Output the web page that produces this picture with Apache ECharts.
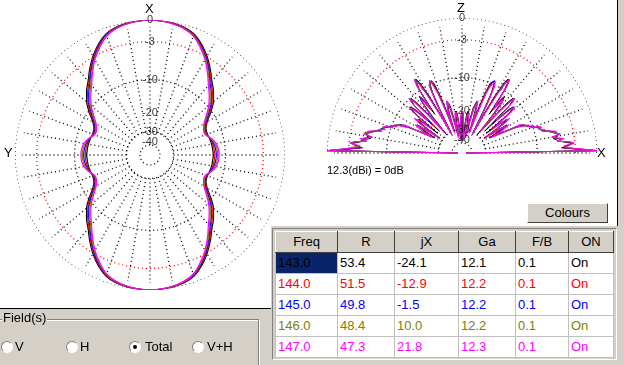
<!DOCTYPE html>
<html><head><meta charset="utf-8">
<script src="https://cdn.jsdelivr.net/npm/echarts@6/dist/echarts.min.js"></script>
<style>
html,body{margin:0;padding:0;width:624px;height:365px;overflow:hidden;background:#fff;font-family:"Liberation Sans",Arial,sans-serif;}
.abs{position:absolute;}
#grayL{left:0;top:308px;width:272px;height:57px;background:#d4d0c8;border-top:1px solid #000;}
#grayR{left:271px;top:226px;width:353px;height:139px;background:#d4d0c8;}
#grayS{left:617px;top:0;width:7px;height:226px;background:#d4d0c8;border-left:1px solid #000;}
#chart{left:0;top:0;width:624px;height:365px;}
#tbl{left:275px;top:231px;border-collapse:collapse;font-size:13px;table-layout:fixed;background:#fff;}
#tbl td,#tbl th{padding:0 0 0 2px;height:20px;line-height:20px;white-space:nowrap;overflow:hidden;}
#tbl th{font-weight:normal;background:#d4d0c8;text-align:center;border-top:1px solid #fff;border-left:1px solid #fff;border-right:1px solid #404040;border-bottom:1px solid #404040;padding:0;}
#tbl td{border:1px solid #c0c0c0;}
#tblbox{left:272px;top:228px;width:343px;height:130px;border-top:1px solid #808080;border-left:1px solid #808080;border-right:1px solid #fff;border-bottom:1px solid #fff;}
#btn{left:527px;top:203px;width:79px;height:18px;background:#d4d0c8;border-top:1px solid #fff;border-left:1px solid #fff;border-right:1px solid #404040;border-bottom:1px solid #404040;font-size:13px;text-align:center;line-height:18px;}
#grp{left:-2px;top:319px;width:259px;height:60px;border:1px solid #808080;box-shadow:1px 1px 0 #fff inset,1px 1px 0 #fff;}
#grpl{left:2px;top:311px;font-size:13px;background:#d4d0c8;padding:0 1px;line-height:14px;}
.rb{width:10px;height:10px;border-radius:50%;background:#fff;border-top:1px solid #808080;border-left:1px solid #808080;border-right:1px solid #fff;border-bottom:1px solid #fff;}
.rb.on::after{content:"";position:absolute;left:3px;top:3px;width:4px;height:4px;border-radius:50%;background:#000;}
.rl{font-size:13px;line-height:14px;}
</style>
</head><body>
<div id="grayL" class="abs"></div>
<div id="grayR" class="abs"></div>
<div id="grayS" class="abs"></div>
<div id="chart" class="abs"></div>
<div id="btn" class="abs">Colours</div>
<div id="tblbox" class="abs"></div>
<table id="tbl" class="abs"></table>
<div id="grp" class="abs"></div>
<div id="grpl" class="abs">Field(s)</div>
<div id="radios"></div>
<script>
// ---------- data ----------
const freqs = [143.0, 144.0, 145.0, 146.0, 147.0];
const colors = ['#000000', '#ff0000', '#0000ff', '#808000', '#ff00ff'];
const colR = [53.4, 51.5, 49.8, 48.4, 47.3];
const colJX = [-24.1, -12.9, -1.5, 10.0, 21.8];
const colGa = [12.1, 12.2, 12.2, 12.2, 12.3];
const colFB = [0.1, 0.1, 0.1, 0.1, 0.1];
const colOn = ['On', 'On', 'On', 'On', 'On'];
const headers = ['Freq', 'R', 'jX', 'Ga', 'F/B', 'ON'];
const colWidths = [62, 57, 64, 57, 53, 45];

const tickDb = [0, -3, -10, -20, -30, -40];
const tickText = ['0', '-3', '-10', '-20', '-30', '-40'];
const ringDb = [0, -3, -10, -30, -44.5];
const ringColor = ['#000', '#f00', '#000', '#000', '#000'];
const spokeDb = [-30, -0.9];
const refText = '12.3(dBi) = 0dB';
const fields = ['V', 'H', 'Total', 'V+H'];
const fieldSel = 2;

// azimuth pattern (dB), 0..90 deg every 5 deg (pattern symmetric in both axes)
const azStep = 5;
const az143 = [0, -0.05, -0.15, -0.35, -0.8, -1.7, -2.9, -4.3, -5.8, -7.0, -8.4, -10.3, -12.3, -13.4, -13.6, -13.4, -13.2, -13.1, -13.0];
const az144 = [0, -0.05, -0.17, -0.4, -0.88, -1.83, -3.05, -4.5, -6.05, -7.3, -8.75, -10.6, -12.55, -13.6, -13.75, -13.3, -12.9, -12.7, -12.6];
const az145 = [0, -0.06, -0.2, -0.45, -0.95, -1.95, -3.2, -4.7, -6.3, -7.6, -9.05, -10.95, -12.8, -13.8, -13.9, -13.2, -12.6, -12.3, -12.2];
const az146 = [0, -0.06, -0.22, -0.5, -1.02, -2.08, -3.35, -4.9, -6.55, -7.9, -9.4, -11.3, -13.05, -14.0, -14.05, -13.05, -12.3, -11.95, -11.85];
const az147 = [0, -0.07, -0.25, -0.55, -1.1, -2.2, -3.5, -5.1, -6.8, -8.2, -9.7, -11.6, -13.3, -14.2, -14.2, -12.9, -12.0, -11.6, -11.5];

// elevation pattern (dB), 0..90 deg every 1 deg (mirrored to the back side)
const el143 = [-60, 0, -3.0, -5.2, -4.0, -3.5, -4.5, -5.5, -5.4, -6.5, -6.0, -5.5, -5.3, -6.5, -7.2, -7.5, -8.5, -8.2, -8.6, -9.5,
  -9.5, -10.5, -10.5, -11.2, -11.5, -12.0, -16, -18, -20, -25, -22, -18, -16, -20, -28, -20, -16, -15, -15.5, -25,
  -14, -12, -11.5, -13, -25, -12, -10.5, -10.1, -12, -20, -30, -18, -13, -11, -12, -18, -10, -8, -7.5, -8.5,
  -12, -22, -30, -18, -12, -10, -9.3, -9.3, -10, -13, -20, -30, -22, -18, -16.5, -16.5, -18, -24, -35, -30,
  -25, -22, -20, -21, -25, -35, -40, -35, -28, -22, -20];
const el144 = [-60, 0, -2.8, -5.0, -4.2, -3.4, -4.3, -5.6, -5.2, -6.3, -6.2, -5.4, -5.5, -6.3, -7.0, -7.8, -8.3, -8.4, -8.5, -9.3,
  -9.8, -10.3, -10.7, -11.0, -11.8, -12.5, -15, -19, -21, -23, -20, -17, -16.5, -22, -26, -18, -15.5, -15, -16.5, -22,
  -13.5, -11.8, -11.8, -14, -22, -11.5, -10.2, -10.4, -13, -22, -26, -16, -12.5, -11.2, -13, -16, -9.5, -7.8, -7.7, -9.2,
  -14, -26, -26, -16, -11.5, -9.8, -9.2, -9.6, -10.8, -15, -24, -27, -20, -17, -16, -17, -20, -28, -32, -27,
  -23, -21, -20.5, -22, -28, -38, -38, -32, -25, -21, -20];
const el145 = [-60, 0, -2.6, -4.8, -4.4, -3.3, -4.1, -5.7, -5.0, -6.1, -6.4, -5.3, -5.7, -6.1, -6.9, -8.0, -8.1, -8.6, -8.4, -9.1,
  -10.0, -10.1, -10.9, -10.9, -12.0, -13.0, -14, -20, -22, -21, -19, -16.5, -17, -24, -24, -17, -15, -15.2, -18, -20,
  -13, -11.6, -12.2, -15, -20, -11.2, -10.0, -10.8, -14, -24, -23, -15, -12.2, -11.5, -14, -15, -9.2, -7.6, -7.9, -10,
  -16, -30, -23, -15, -11, -9.6, -9.1, -10, -11.5, -17, -27, -25, -19, -16.5, -15.8, -17.5, -22, -32, -30, -25,
  -22, -20.5, -21, -23, -31, -40, -36, -30, -24, -20.5, -20];
const el146 = [-60, 0, -2.4, -4.6, -4.6, -3.2, -3.9, -5.8, -4.8, -5.9, -6.6, -5.2, -5.9, -5.9, -6.8, -8.2, -7.9, -8.8, -8.3, -8.9,
  -10.2, -9.9, -11.1, -10.8, -12.2, -13.5, -13, -21, -23, -19, -18, -16, -18, -26, -22, -16, -14.6, -15.5, -19.5, -18,
  -12.6, -11.4, -12.6, -16.5, -18, -11, -9.9, -11.3, -15.5, -26, -20, -14.5, -12, -11.8, -15, -14, -9, -7.5, -8.2, -11,
  -18, -32, -21, -14.5, -10.6, -9.4, -9.1, -10.4, -12.3, -19, -30, -23, -18.5, -16, -15.7, -18, -24, -35, -28, -24,
  -21.5, -20.3, -21.5, -24, -34, -40, -34, -28, -23, -20.2, -19.8];
const el147 = [-60, 0, -2.2, -4.4, -4.8, -3.1, -3.7, -5.9, -4.6, -5.7, -6.8, -5.1, -6.1, -5.7, -6.7, -8.4, -7.7, -9.0, -8.2, -8.7,
  -10.4, -9.7, -11.3, -10.7, -12.4, -14, -12.5, -22, -24, -18, -17, -15.5, -19, -28, -20, -15.5, -14.2, -16, -21, -16.5,
  -12.2, -11.2, -13, -18, -16.5, -10.8, -9.8, -11.8, -17, -28, -18, -14, -11.8, -12.2, -16, -13, -8.8, -7.4, -8.5, -12,
  -20, -33, -19, -14, -10.2, -9.2, -9.2, -10.8, -13, -21, -32, -21, -18, -15.5, -15.6, -18.5, -26, -37, -27, -23,
  -21, -20, -22, -25, -37, -40, -32, -26, -22, -20, -19.5];

const azData = [az143, az144, az145, az146, az147];
const elData = [el143, el144, el145, el146, el147];

// ---------- scale: ARRL-style log radius, r = 0.89^(-dB/2) ----------
function rv(db) { return Math.pow(0.89, -db / 2); }

const chart = echarts.init(document.getElementById('chart'), null, {renderer: 'canvas'});
const series = [];
const dot = {type: [1, 3], width: 1.3};

function ring(pi, db, col, a0, a1) {
  const d = [];
  for (let a = a0; a <= a1; a += 2) d.push([rv(db), a]);
  series.push({type: 'line', coordinateSystem: 'polar', polarIndex: pi, data: d, symbol: 'none', silent: true,
    lineStyle: Object.assign({color: col}, dot), z: 1});
}
function spoke(pi, a) {
  series.push({type: 'line', coordinateSystem: 'polar', polarIndex: pi,
    data: [[rv(spokeDb[0]), a], [rv(spokeDb[1]), a]], symbol: 'none', silent: true,
    lineStyle: Object.assign({color: '#000'}, dot), z: 1});
}
for (let i = 0; i < ringDb.length; i++) { ring(0, ringDb[i], ringColor[i], 0, 360); ring(1, ringDb[i], ringColor[i], 0, 180); }
for (let a = 0; a < 360; a += 10) spoke(0, a);
for (let a = 0; a <= 180; a += 10) spoke(1, a);

// azimuth traces
azData.forEach((arr, k) => {
  const d = [];
  for (let a = 0; a <= 360; a += azStep) {
    let q = a % 180; if (q > 90) q = 180 - q;
    d.push([rv(arr[q / azStep]), a]);
  }
  series.push({type: 'line', coordinateSystem: 'polar', polarIndex: 0, data: d, symbol: 'none', smooth: 0.35,
    lineStyle: {color: colors[k], width: 1.2}, z: 3 + k});
});
// elevation traces
elData.forEach((arr, k) => {
  const d = [];
  for (let e = 0; e <= 180; e++) {
    const q = e <= 90 ? e : 180 - e;
    d.push([rv(arr[q]), e]);
  }
  series.push({type: 'line', coordinateSystem: 'polar', polarIndex: 1, data: d, symbol: 'none',
    lineStyle: {color: colors[k], width: 1}, z: 3 + k});
});
// tick labels
[0, 1].forEach(pi => {
  series.push({type: 'scatter', coordinateSystem: 'polar', polarIndex: pi, symbolSize: 0, z: 20, silent: true,
    data: tickDb.map((db, i) => ({value: [rv(db), pi === 0 ? 0 : 90], name: tickText[i]})),
    label: {show: true, position: 'inside', formatter: p => p.name, color: '#000', fontSize: 11,
      fontFamily: 'Liberation Sans'}});
});

chart.setOption({
  animation: false,
  polar: [{center: [150, 155], radius: 135}, {center: [462, 153], radius: 135}],
  angleAxis: [
    {polarIndex: 0, type: 'value', min: 0, max: 360, startAngle: 90, clockwise: false, show: false},
    {polarIndex: 1, type: 'value', min: 0, max: 360, startAngle: 0, clockwise: false, show: false}],
  radiusAxis: [
    {polarIndex: 0, type: 'value', min: 0, max: 1, show: false},
    {polarIndex: 1, type: 'value', min: 0, max: 1, show: false}],
  graphic: [
    {type: 'text', left: 145, top: 3, style: {text: 'X', font: '13px Liberation Sans', fill: '#000'}},
    {type: 'text', left: 4, top: 147, style: {text: 'Y', font: '13px Liberation Sans', fill: '#000'}},
    {type: 'text', left: 457, top: 2, style: {text: 'Z', font: '13px Liberation Sans', fill: '#000'}},
    {type: 'text', left: 597, top: 147, style: {text: 'X', font: '13px Liberation Sans', fill: '#000'}},
    {type: 'text', left: 327, top: 165, style: {text: refText, font: '11px Liberation Sans', fill: '#000'}}
  ],
  series: series
});

// ---------- table ----------
const tbl = document.getElementById('tbl');
let html = '<colgroup>' + colWidths.map(w => '<col style="width:' + w + 'px">').join('') + '</colgroup>';
html += '<tr>' + headers.map(h => '<th>' + h + '</th>').join('') + '</tr>';
freqs.forEach((f, i) => {
  const c = colors[i];
  const cells = [f.toFixed(1), colR[i].toFixed(1), colJX[i].toFixed(1), colGa[i].toFixed(1), colFB[i].toFixed(1), colOn[i]];
  html += '<tr>' + cells.map((t, j) => {
    const sel = (i === 0 && j === 0);
    return '<td style="color:' + c + ';' + (sel ? 'background:#0a246a;' : '') + '">' + t + '</td>';
  }).join('') + '</tr>';
});
tbl.innerHTML = html;

// ---------- radio buttons ----------
const rpos = [[1, 15], [66, 80], [129, 145], [192, 207]];
const rd = document.getElementById('radios');
fields.forEach((f, i) => {
  const b = document.createElement('div');
  b.className = 'abs rb' + (i === fieldSel ? ' on' : '');
  b.style.left = rpos[i][0] + 'px'; b.style.top = '341px';
  rd.appendChild(b);
  const l = document.createElement('div');
  l.className = 'abs rl'; l.textContent = f;
  l.style.left = rpos[i][1] + 'px'; l.style.top = '340px';
  rd.appendChild(l);
});
</script>
</body></html>
